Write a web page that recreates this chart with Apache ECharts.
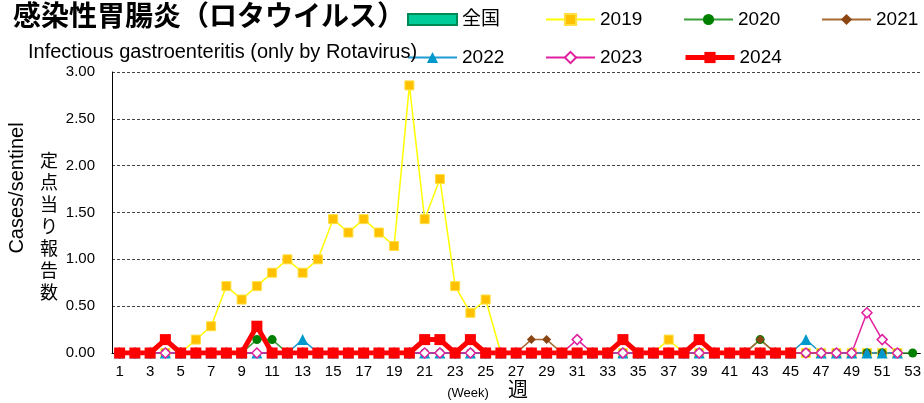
<!DOCTYPE html>
<html style="height: 100%">
    <head>
        <meta charset="utf-8">
    </head>
    <body style="height: 100%; margin: 0">
        <div id="container" style="width: 924px; height: 403px"></div>

        <script type="text/javascript" src="https://cdn.jsdelivr.net/npm/echarts@6/dist/echarts.min.js"></script>
        <script type="text/javascript">
// weeks 1..53
var weeks = [];
for (var w = 1; w <= 53; w++) weeks.push(String(w));

// cases per sentinel
var national = [];
var v2019 = [0, 0, 0, 0, 0, 0.143, 0.286, 0.714, 0.571, 0.714, 0.857, 1.0, 0.857, 1.0, 1.429, 1.286, 1.429, 1.286, 1.143, 2.857,
    1.429, 1.857, 0.714, 0.429, 0.571, 0, 0, 0, 0, 0, 0, 0, 0, 0, 0, 0, 0.143, 0, 0, 0,
    0, 0, 0, 0, 0, 0, 0, 0, 0, 0, 0, 0];
var v2020 = [0, 0, 0, 0, 0, 0, 0, 0, 0, 0.143, 0.143, 0, 0, 0, 0, 0, 0, 0, 0, 0,
    0, 0, 0, 0, 0, 0, 0, 0, 0, 0, 0, 0, 0, 0, 0, 0, 0, 0, 0, 0,
    0, 0, 0.143, 0, 0, 0, 0, 0, 0, 0, 0, 0, 0];
var v2021 = [0, 0, 0, 0, 0, 0, 0, 0, 0, 0, 0, 0, 0, 0, 0, 0, 0, 0, 0, 0,
    0, 0, 0, 0, 0, 0, 0, 0.143, 0.143, 0, 0, 0, 0, 0, 0, 0, 0, 0, 0, 0,
    0, 0, 0.143, 0, 0, 0, 0, 0, 0, 0, 0, 0];
var v2022 = [0, 0, 0, 0, 0, 0, 0, 0, 0, 0, 0, 0, 0.143, 0, 0, 0, 0, 0, 0, 0,
    0, 0, 0, 0, 0, 0, 0, 0, 0, 0, 0, 0, 0, 0, 0, 0, 0, 0, 0, 0,
    0, 0, 0, 0, 0, 0.143, 0, 0, 0, 0, 0, 0];
var v2023 = [0, 0, 0, 0, 0, 0, 0, 0, 0, 0, 0, 0, 0, 0, 0, 0, 0, 0, 0, 0,
    0, 0, 0, 0, 0, 0, 0, 0, 0, 0, 0.143, 0, 0, 0, 0, 0, 0, 0, 0, 0,
    0, 0, 0, 0, 0, 0, 0, 0, 0, 0.429, 0.143, 0];
var v2024 = [0, 0, 0, 0.143, 0, 0, 0, 0, 0, 0.286, 0, 0, 0, 0, 0, 0, 0, 0, 0, 0,
    0.143, 0.143, 0, 0.143, 0, 0, 0, 0, 0, 0, 0, 0, 0, 0.143, 0, 0, 0, 0, 0.143, 0,
    0, 0, 0, 0, 0];

var FONT = "'Liberation Sans', 'Noto Sans CJK JP', sans-serif";

var dom = document.getElementById("container");
var myChart = echarts.init(dom);

function legendAt(name, left, top, icon, lineWidth) {
    var l = {
        data: [name],
        left: left,
        top: top,
        padding: 0,
        itemWidth: 49,
        itemHeight: icon ? 11 : 14,
        itemGap: 0,
        selectedMode: false,
        textStyle: { fontSize: 19, color: '#000', fontFamily: FONT, padding: [0, 0, 0, 0] }
    };
    if (icon) l.icon = icon;
    if (lineWidth) l.lineStyle = { width: lineWidth };
    return l;
}

var option = {
    animation: false,
    backgroundColor: '#fff',
    textStyle: { fontFamily: FONT },
    title: [
        {
            text: '感染性胃腸炎（ロタウイルス）',
            left: 13, top: 4, padding: 0,
            textStyle: { fontSize: 28, fontWeight: 'bold', color: '#000', fontFamily: FONT }
        },
        {
            text: 'Infectious gastroenteritis (only by Rotavirus)',
            left: 28, top: 42, padding: 0,
            textStyle: { fontSize: 20, fontWeight: 'normal', color: '#000', fontFamily: FONT }
        }
    ],
    legend: [
        legendAt('全国', 407, 10, 'rect'),
        legendAt('2019', 545, 10),
        legendAt('2020', 683, 10),
        legendAt('2021', 821, 10),
        legendAt('2022', 407, 48),
        legendAt('2023', 545, 48),
        legendAt('2024', 683, 48, null, 5)
    ],
    grid: { left: 112, right: 2, top: 72, bottom: 50 },
    xAxis: {
        type: 'category',
        data: weeks,
        boundaryGap: true,
        axisLine: { lineStyle: { color: '#000', width: 1 } },
        axisTick: { show: false },
        axisLabel: { interval: 1, margin: 11, fontSize: 15, color: '#000', fontFamily: FONT }
    },
    yAxis: {
        type: 'value',
        min: 0, max: 3, interval: 0.5,
        axisLine: { show: true, lineStyle: { color: '#000', width: 1 } },
        axisTick: { show: false },
        splitLine: { lineStyle: { color: '#444', type: [3, 2], width: 1 } },
        axisLabel: {
            margin: 17, fontSize: 15, color: '#000', fontFamily: FONT,
            formatter: function (v) { return v.toFixed(2); }
        }
    },
    graphic: [
        {
            type: 'text', x: 17, y: 188, rotation: Math.PI / 2,
            style: { text: 'Cases/sentinel', font: '20px ' + FONT, fill: '#000', align: 'center', verticalAlign: 'middle' }
        },
        {
            type: 'text', x: 49, y: 228,
            style: { text: '定\n点\n当\nり\n報\n告\n数', font: '18px ' + FONT, lineHeight: 22, fill: '#000', align: 'center', verticalAlign: 'middle' }
        },
        {
            type: 'text', x: 468, y: 393,
            style: { text: '(Week)', font: '13px ' + FONT, fill: '#000', align: 'center', verticalAlign: 'middle' }
        },
        {
            type: 'text', x: 518, y: 391,
            style: { text: '週', font: '20px ' + FONT, fill: '#000', align: 'center', verticalAlign: 'middle' }
        }
    ],
    series: [
        {
            name: '全国', type: 'bar', data: national,
            itemStyle: { color: '#00CC99', borderColor: '#008855', borderWidth: 1 }
        },
        {
            name: '2019', type: 'line', data: v2019, showAllSymbol: true,
            symbol: 'rect', symbolSize: 9,
            lineStyle: { color: '#FFFF00', width: 1.5 },
            itemStyle: { color: '#FFC000', borderColor: '#FFE040', borderWidth: 1 }
        },
        {
            name: '2020', type: 'line', data: v2020, showAllSymbol: true,
            symbol: 'circle', symbolSize: 9,
            lineStyle: { color: '#3A9F3A', width: 1.5 },
            itemStyle: { color: '#008000' }
        },
        {
            name: '2021', type: 'line', data: v2021, showAllSymbol: true,
            symbol: 'diamond', symbolSize: 9,
            lineStyle: { color: '#A86A34', width: 1.5 },
            itemStyle: { color: '#8B4513' }
        },
        {
            name: '2022', type: 'line', data: v2022, showAllSymbol: true,
            symbol: 'triangle', symbolSize: 11,
            lineStyle: { color: '#1E9BD0', width: 1.5 },
            itemStyle: { color: '#0099CC' }
        },
        {
            name: '2023', type: 'line', data: v2023, showAllSymbol: true,
            symbol: 'diamond', symbolSize: 10,
            lineStyle: { color: '#E0209F', width: 1.5 },
            itemStyle: { color: '#fff', borderColor: '#E0209F', borderWidth: 1.5 }
        },
        {
            name: '2024', type: 'line', data: v2024, showAllSymbol: true,
            symbol: 'rect', symbolSize: 11,
            lineStyle: { color: '#FF0000', width: 5 },
            itemStyle: { color: '#FF0000' }
        }
    ]
};

if (option && typeof option === 'object') {
    myChart.setOption(option);
}
        </script>
    </body>
</html>
